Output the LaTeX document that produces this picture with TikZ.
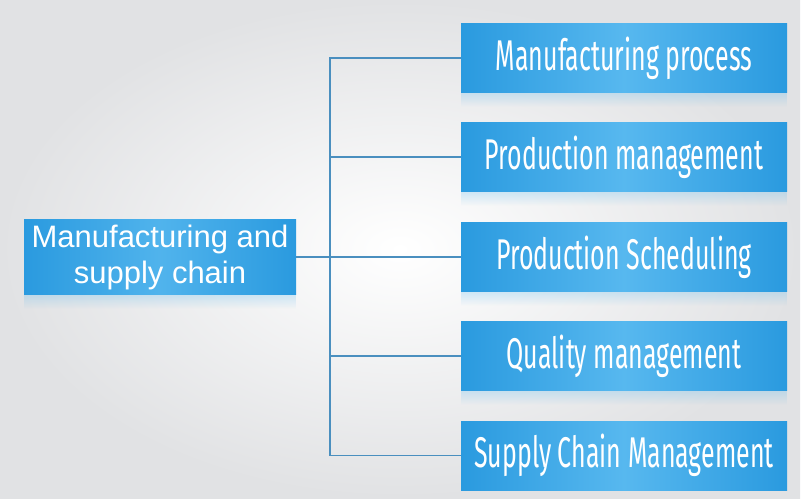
\documentclass[tikz,border=0pt]{standalone}
\usepackage{fontspec}
\setmainfont{Liberation Sans}
\newfontfamily\condfont[FakeStretch=0.58]{Fira Sans}
\usetikzlibrary{fadings}
\definecolor{boxdark}{HTML}{2A9ADF}
\definecolor{boxlight}{HTML}{57B8EF}
\definecolor{wirecol}{HTML}{4A8FBF}
\definecolor{backgray}{HTML}{E1E2E4}

\begin{document}
\begin{tikzpicture}[x=1pt, y=-1pt,
  box/.style = {shade, left color=boxdark, right color=boxdark, middle color=boxlight,
    text=white, inner sep=0pt, minimum width=326pt, minimum height=69pt,
    font=\condfont\fontsize{43}{46}\selectfont},
  root/.style = {shade, left color=boxdark, right color=boxdark, middle color=boxlight!85!boxdark,
    text=white, inner sep=0pt, minimum width=272pt, minimum height=75pt, align=center,
    font=\fontsize{31}{36}\selectfont},
  glow/.style = {boxlight, path fading=south, opacity=0.25},
  wire/.style = {draw=wirecol, line width=1.3pt}]

\useasboundingbox (0, 0) rectangle (806, 503);
\shade[inner color=white, outer color=backgray] (0, 0) rectangle (800, 498);

\node[root] (M) at (160, 257) {Manufacturing and\\supply chain};

\node[box] (P1) at (624, 58) {Manufacturing process};
\node[box] (P2) at (624, 157) {Production management};
\node[box] (P3) at (624, 257) {Production Scheduling};
\node[box] (P4) at (624, 356) {Quality management};
\node[box] (P5) at (624, 455.5) {Supply Chain Management};

% soft reflections under the boxes
\fill[glow] (M.south west) rectangle ([yshift=-14pt]M.south east);
\fill[glow] (P1.south west) rectangle ([yshift=-14pt]P1.south east);
\fill[glow] (P2.south west) rectangle ([yshift=-14pt]P2.south east);
\fill[glow] (P3.south west) rectangle ([yshift=-14pt]P3.south east);
\fill[glow] (P4.south west) rectangle ([yshift=-14pt]P4.south east);

\coordinate (S) at (330, 257);

\draw[wire] (M.east) -- (S);
\draw[wire] (S) |- (P1.west);
\draw[wire] (S) |- (P2.west);
\draw[wire] (S) -- (P3.west);
\draw[wire] (S) |- (P4.west);
\draw[wire] (S) |- (P5.west);

\end{tikzpicture}
\end{document}
